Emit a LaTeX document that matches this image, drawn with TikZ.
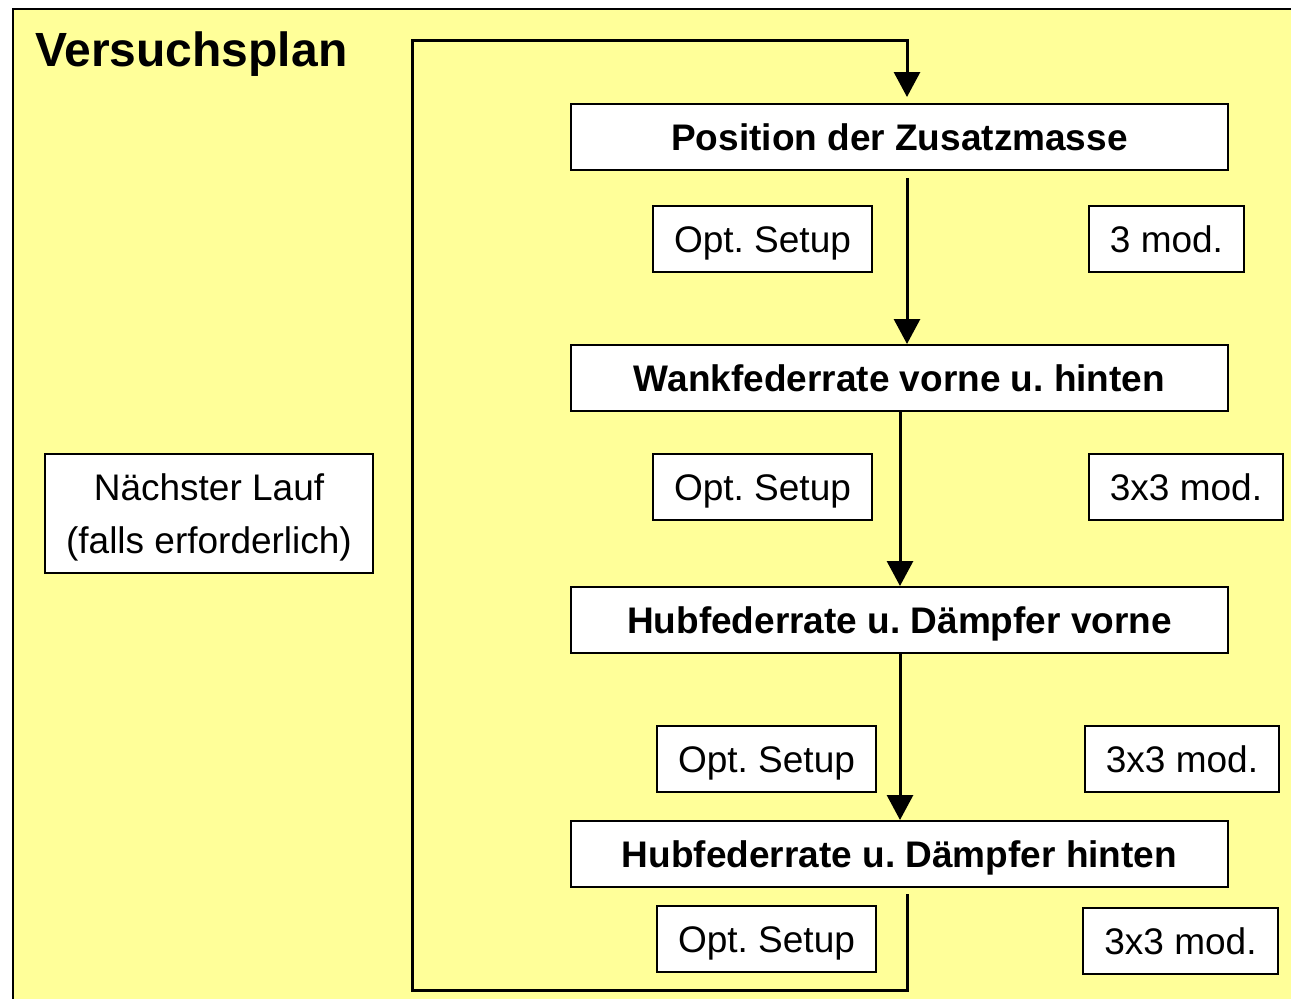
\documentclass[tikz,border=0pt]{standalone}
\usepackage{fontspec}
\setmainfont{Liberation Sans}
\usetikzlibrary{arrows.meta,calc}
\definecolor{paper}{HTML}{FFFF99}
\frenchspacing
\begin{document}
\begin{tikzpicture}[x={(1pt,0)},y={(0,-1pt)},
  stepbox/.style={draw=black,line width=2pt,fill=white,inner sep=0pt,
    minimum width=657pt,minimum height=66pt,text height=26.6pt,text depth=0pt,
    font=\fontsize{37}{44}\selectfont\bfseries},
  infobox/.style={draw=black,line width=2pt,fill=white,inner sep=0pt,
    minimum height=66pt,text height=26.6pt,text depth=0pt,
    font=\fontsize{37}{44}\selectfont},
  flow/.style={line width=3pt,-{Triangle[width=26pt,length=25pt]}}]
\useasboundingbox (0,0) rectangle (1291,999);
\fill[white] (0,0) rectangle (1291,999);
% yellow sheet with its frame
\draw[line width=2.5pt,fill=paper] (13,9) rectangle (1300,1010);
\node[anchor=base west,inner sep=0pt,font=\fontsize{48}{56}\selectfont\bfseries]
  (title) at (35,66) {Versuchsplan};

% main steps
\node[stepbox] (t1) at (899.5,137) {Position der Zusatzmasse};
\node[stepbox] (t2) at (899.5,378) {Wankfederrate vorne u. hinten};
\node[stepbox] (t3) at (899.5,620) {Hubfederrate u. Dämpfer vorne};
\node[stepbox] (t4) at (899.5,854) {Hubfederrate u. Dämpfer hinten};

% setup and modification boxes
\node[infobox,minimum width=219pt] (o1) at (762.5,239) {Opt. Setup};
\node[infobox,minimum width=219pt] (o2) at (762.5,487) {Opt. Setup};
\node[infobox,minimum width=219pt] (o3) at (766.5,759) {Opt. Setup};
\node[infobox,minimum width=219pt] (o4) at (766.5,939) {Opt. Setup};
\node[infobox,minimum width=155pt] (m1) at (1166.5,239) {3 mod.};
\node[infobox,minimum width=194pt] (m2) at (1186,487) {3x3 mod.};
\node[infobox,minimum width=194pt] (m3) at (1182,759) {3x3 mod.};
\node[infobox,minimum width=195pt] (m4) at (1180.5,941) {3x3 mod.};

\node[draw=black,line width=2pt,fill=white,inner sep=0pt,
  minimum width=328pt,minimum height=119pt,align=center,text depth=0pt,
  font=\fontsize{37}{53}\selectfont] (n) at (209,513.5)
  {Nächster Lauf\\(falls erforderlich)};

% flow between the steps
\draw[flow,shorten <=7pt] ([xshift=7.5pt]t1.south) -- ([xshift=7.5pt]t2.north);
\draw[flow] ([xshift=0.5pt]t2.south) -- ([xshift=0.5pt]t3.north);
\draw[flow] ([xshift=0.5pt]t3.south) -- ([xshift=0.5pt]t4.north);

% loop back to the first step
\coordinate (c1) at (907,990);
\coordinate (c2) at (412,990);
\coordinate (c3) at (412,40);
\coordinate (c4) at (907,40);
\draw[flow,shorten <=6pt,shorten >=6pt,line join=miter]
  ([xshift=7.5pt]t4.south) -- (c1) -- (c2) -- (c3) -- (c4) -- ([xshift=7.5pt]t1.north);
\end{tikzpicture}
\end{document}
